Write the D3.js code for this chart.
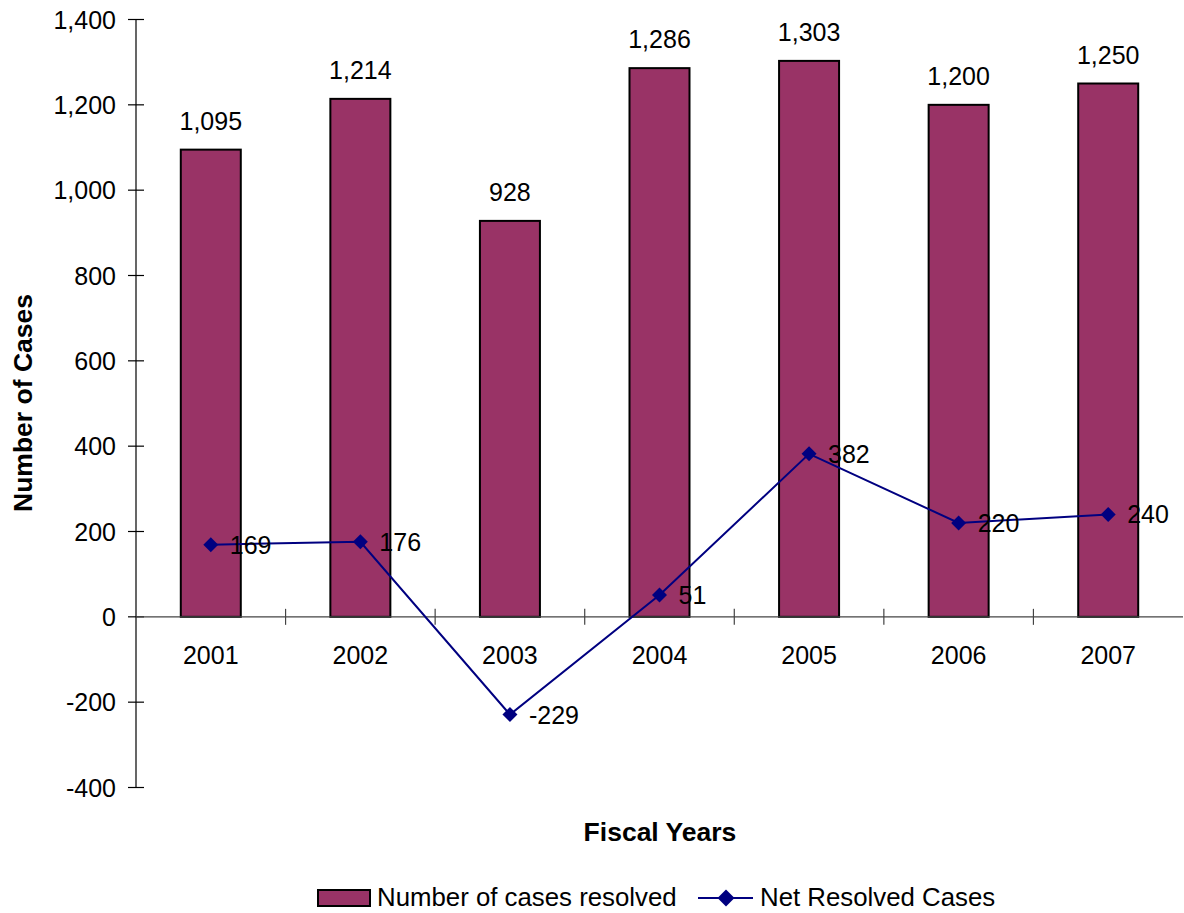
<!DOCTYPE html>
<html>
<head>
<meta charset="utf-8">
<script src="https://cdn.jsdelivr.net/npm/d3@7"></script>
<style>
  body { margin: 0; background: #fff; }
  svg text { font-family: "Liberation Sans", Arial, Helvetica, sans-serif; fill: #000; }
</style>
</head>
<body>
<svg width="1184" height="913"></svg>
<script>
var years = ["2001", "2002", "2003", "2004", "2005", "2006", "2007"];
var resolved = [1095, 1214, 928, 1286, 1303, 1200, 1250];
var netResolved = [169, 176, -229, 51, 382, 220, 240];
var yTicks = [-400, -200, 0, 200, 400, 600, 800, 1000, 1200, 1400];

var svg = d3.select("svg");
var fmt = function(d) { return d3.format(",")(d).replace("\u2212", "-"); };

var x = d3.scaleBand()
    .domain(years)
    .range([136, 1183]);

var y = d3.scaleLinear()
    .domain([-400, 1400])
    .range([787.5, 19.5]);

var barW = 60;
var numSize = "25px";

// y axis
var yAxis = svg.append("g").attr("transform", "translate(136,0)");
yAxis.append("line")
    .attr("y1", y(1400)).attr("y2", y(-400))
    .attr("stroke", "#000").attr("stroke-width", 1.2);
yAxis.selectAll(".tick").data(yTicks).enter().append("line")
    .attr("x1", -8).attr("x2", 8)
    .attr("y1", function(d) { return y(d); })
    .attr("y2", function(d) { return y(d); })
    .attr("stroke", "#000").attr("stroke-width", 1.2);
yAxis.selectAll("text").data(yTicks).enter().append("text")
    .attr("x", -20)
    .attr("y", function(d) { return y(d) + 9; })
    .attr("text-anchor", "end")
    .style("font-size", numSize)
    .text(function(d) { return fmt(d); });

// bars
svg.selectAll(".bar").data(resolved).enter().append("rect")
    .attr("class", "bar")
    .attr("x", function(d, i) { return x(years[i]) + x.bandwidth() / 2 - barW / 2; })
    .attr("y", function(d) { return y(d); })
    .attr("width", barW)
    .attr("height", function(d) { return y(0) - y(d); })
    .attr("fill", "#993366")
    .attr("stroke", "#000")
    .attr("stroke-width", 2);

svg.selectAll(".barlabel").data(resolved).enter().append("text")
    .attr("x", function(d, i) { return x(years[i]) + x.bandwidth() / 2; })
    .attr("y", function(d) { return y(d) - 20; })
    .attr("text-anchor", "middle")
    .style("font-size", numSize)
    .text(function(d) { return fmt(d); });

// x axis at zero
var xAxis = svg.append("g");
xAxis.append("line")
    .attr("x1", 136).attr("x2", 1183)
    .attr("y1", y(0)).attr("y2", y(0))
    .attr("stroke", "#444").attr("stroke-width", 1.2);
xAxis.selectAll(".xtick").data(years.slice(1)).enter().append("line")
    .attr("x1", function(d) { return x(d); })
    .attr("x2", function(d) { return x(d); })
    .attr("y1", y(0) - 8).attr("y2", y(0) + 8)
    .attr("stroke", "#444").attr("stroke-width", 1.2);
xAxis.selectAll("text").data(years).enter().append("text")
    .attr("x", function(d) { return x(d) + x.bandwidth() / 2; })
    .attr("y", y(0) + 47)
    .attr("text-anchor", "middle")
    .style("font-size", numSize)
    .text(function(d) { return d; });

// net resolved line
var line = d3.line()
    .x(function(d, i) { return x(years[i]) + x.bandwidth() / 2; })
    .y(function(d) { return y(d); });

svg.append("path")
    .datum(netResolved)
    .attr("d", line)
    .attr("fill", "none")
    .attr("stroke", "#000080")
    .attr("stroke-width", 2);

var diamond = d3.symbol().type(d3.symbolSquare).size(112);
svg.selectAll(".pt").data(netResolved).enter().append("path")
    .attr("d", diamond)
    .attr("transform", function(d, i) {
        return "translate(" + (x(years[i]) + x.bandwidth() / 2) + "," + y(d) + ") rotate(45)";
    })
    .attr("fill", "#000080");

svg.selectAll(".ptlabel").data(netResolved).enter().append("text")
    .attr("x", function(d, i) { return x(years[i]) + x.bandwidth() / 2 + 19; })
    .attr("y", function(d) { return y(d) + 9; })
    .style("font-size", numSize)
    .text(function(d) { return fmt(d); });

// axis titles
svg.append("text")
    .attr("x", 660).attr("y", 841)
    .attr("text-anchor", "middle")
    .style("font-size", "26.5px")
    .style("font-weight", "bold")
    .text("Fiscal Years");

svg.append("text")
    .attr("transform", "translate(32,403) rotate(-90)")
    .attr("text-anchor", "middle")
    .style("font-size", "26.5px")
    .style("font-weight", "bold")
    .text("Number of Cases");

// legend
var legend = svg.append("g");
legend.append("rect")
    .attr("x", 318).attr("y", 890)
    .attr("width", 52).attr("height", 16)
    .attr("fill", "#993366")
    .attr("stroke", "#000").attr("stroke-width", 2);
legend.append("text")
    .attr("x", 377).attr("y", 906)
    .style("font-size", "25.8px")
    .text("Number of cases resolved");
legend.append("line")
    .attr("x1", 698).attr("x2", 753)
    .attr("y1", 898).attr("y2", 898)
    .attr("stroke", "#000080").attr("stroke-width", 2);
legend.append("path")
    .attr("d", d3.symbol().type(d3.symbolSquare).size(145))
    .attr("transform", "translate(726,898) rotate(45)")
    .attr("fill", "#000080");
legend.append("text")
    .attr("x", 760).attr("y", 906)
    .style("font-size", "25.8px")
    .text("Net Resolved Cases");
</script>
</body>
</html>
